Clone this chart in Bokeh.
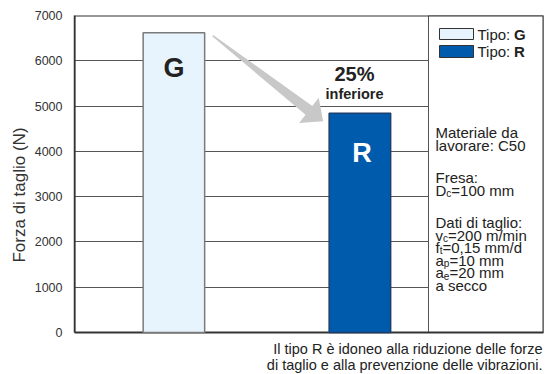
import numpy as np
from bokeh.plotting import figure
from bokeh.models import Range1d, FixedTicker
from bokeh.embed import file_html
from bokeh.resources import INLINE
from bokeh.core.properties import value

# ---- data ----
types = ["G", "R"]
x_pos = [1, 2]
force = [6620, 4840]
fill_colors = ["#E8F4FD", "#005BAC"]
edge_colors = ["#7A7A7A", "#1C3E6E"]
y_ticks = [0, 1000, 2000, 3000, 4000, 5000, 6000, 7000]
reduction_label = "25%"
reduction_word = "inferiore"
legend_labels = ["Tipo:", "Tipo:"]
note_lines = ["Il tipo R è idoneo alla riduzione delle forze",
              "di taglio e alla prevenzione delle vibrazioni."]

# ---- geometry (page pixels) ----
W, H = 546, 374
FRAME_L, FRAME_T, FRAME_R, FRAME_B = 74, 15, 543, 332   # chart box
UNIT = 186.0          # px per category step
X0 = 1 - (173.4 - FRAME_L) / UNIT
YMAX = 7000
FH = FRAME_B - FRAME_T
bar_w = 61.5 / UNIT
FONT = "Liberation Sans"


def px_x(px):
    return X0 + (px - FRAME_L) / UNIT


def px_y(py):
    return (FRAME_B - py) * YMAX / FH


def x2px(x):
    return FRAME_L + (x - X0) * UNIT


def y2px(y):
    return FRAME_B - y * FH / YMAX


p = figure(width=W, height=H,
           min_border_left=FRAME_L, min_border_top=FRAME_T,
           min_border_right=W - FRAME_R, min_border_bottom=0,
           x_range=Range1d(X0, px_x(FRAME_R)),
           y_range=Range1d(px_y(H), px_y(FRAME_T)),
           x_axis_location=None,
           output_backend="svg", toolbar_location=None,
           background_fill_color="white", border_fill_color="white")

p.outline_line_color = None
p.xgrid.visible = False
p.ygrid.ticker = FixedTicker(ticks=y_ticks)
p.ygrid.grid_line_color = "#555555"
p.ygrid.grid_line_width = 1

ax = p.yaxis[0]
ax.ticker = FixedTicker(ticks=y_ticks)
ax.bounds = (0, YMAX)
ax.axis_line_color = "#333333"
ax.axis_line_width = 1.5
ax.major_tick_line_color = None
ax.minor_tick_line_color = None
ax.major_label_standoff = 6
ax.major_label_text_font = FONT
ax.major_label_text_font_size = "12.5px"
ax.major_label_text_color = "#333333"
ax.axis_label = "Forza di taglio (N)"
ax.axis_label_text_font = FONT
ax.axis_label_text_font_size = "17px"
ax.axis_label_text_font_style = "normal"
ax.axis_label_text_color = "#333333"
ax.axis_label_standoff = 3

# right info box (covers grid lines)
BOX_L = 428
p.quad(left=[px_x(BOX_L)], right=[px_x(FRAME_R)], bottom=[0], top=[YMAX],
       fill_color="white", line_color="#555555", line_width=1)

# chart frame
p.quad(left=[X0], right=[px_x(FRAME_R)], bottom=[0], top=[YMAX],
       fill_color=None, line_color="#333333", line_width=2)

# bars
p.vbar(x=x_pos, width=bar_w, top=force, bottom=0,
       fill_color=fill_colors, line_color=edge_colors, line_width=1.5)

# arrow from G top to R top
A = np.array([x2px(x_pos[0] + bar_w / 2) + 8, y2px(force[0]) + 3])
T = np.array([x2px(x_pos[1] - bar_w / 2) - 6, y2px(force[1]) + 8])
d = (T - A) / np.linalg.norm(T - A)
n = np.array([-d[1], d[0]])
head_len, head_hw, shaft_hw, tail_hw = 18, 16, 5.5, 0.8
base = T - d * head_len
pts = [A + n * tail_hw, base + n * shaft_hw, base + n * head_hw, T,
       base - n * head_hw, base - n * shaft_hw, A - n * tail_hw]
p.patch(x=[px_x(q[0]) for q in pts], y=[px_y(q[1]) for q in pts],
        fill_color="#C8C8C8", line_color=None)


def add_text(xp, yp, s, size, bold=False, color="#222222", align="left"):
    p.text(x=[px_x(xp)], y=[px_y(yp)], text=[s],
           text_font=value(FONT), text_font_size=value(f"{size}px"),
           text_font_style="bold" if bold else "normal",
           text_color=color, text_align=align, text_baseline="middle")


# bar letters
add_text(x2px(x_pos[0]), 67, types[0], 27, bold=True, color="#222222", align="center")
add_text(x2px(x_pos[1]) + 2, 152, types[1], 27, bold=True, color="white", align="center")

# reduction label
add_text(354, 73, reduction_label, 20, bold=True, align="center")
add_text(354, 93, reduction_word, 14.5, bold=True, align="center")

# legend swatches
sw_tops = [28, 45]
sw_bots = [39, 57]
p.quad(left=[px_x(439)] * 2, right=[px_x(473)] * 2,
       top=[px_y(t) for t in sw_tops], bottom=[px_y(b) for b in sw_bots],
       fill_color=fill_colors, line_color="#333333", line_width=1)
for i, t in enumerate(types):
    yc = (sw_tops[i] + sw_bots[i]) / 2
    add_text(477, yc, legend_labels[i], 15)
    add_text(477 + 36.5, yc, t, 15, bold=True)

# info text
BX = 435
FS = 15
SUB = 10
add_text(BX, 132, "Materiale da", FS)
add_text(BX, 144.5, "lavorare: C50", FS)
add_text(BX, 177, "Fresa:", FS)
add_text(BX, 222, "Dati di taglio:", FS)
add_text(BX, 284.5, "a secco", FS)

# lines with subscripts: (y, main, main_width_em, sub, sub_width_em, rest)
sub_lines = [
    (189.5, "D", 0.722, "c", 0.5, " =100 mm"),
    (234.5, "v", 0.5, "c", 0.5, "=200 m/min"),
    (247.0, "f", 0.278, "t", 0.278, "  =0,15 mm/d"),
    (259.5, "a", 0.556, "p", 0.556, "=10 mm"),
    (272.0, "a", 0.556, "e", 0.556, "=20 mm"),
]
for yc, m, mw, s, sw, rest in sub_lines:
    add_text(BX, yc, m, FS)
    sx = BX + mw * FS
    add_text(sx, yc + 3, s, SUB)
    add_text(sx + sw * SUB, yc, rest, FS)

# note below chart
for i, line in enumerate(note_lines):
    add_text(542, 348 + i * 16, line, 14.5, align="right")

open("out.html", "w").write(file_html(p, INLINE))
